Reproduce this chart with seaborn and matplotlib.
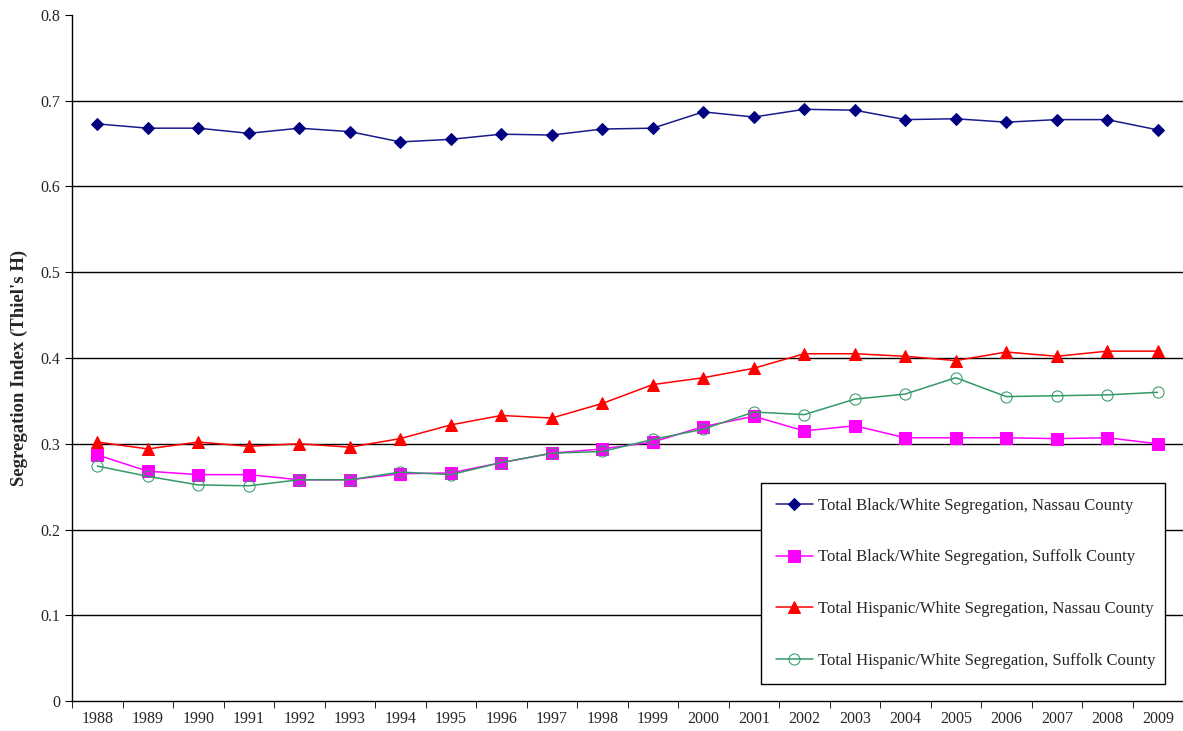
import matplotlib
matplotlib.use('Agg')
import matplotlib.pyplot as plt
import seaborn as sns
import pandas as pd

years = ['1988', '1989', '1990', '1991', '1992', '1993', '1994', '1995', '1996', '1997', '1998',
         '1999', '2000', '2001', '2002', '2003', '2004', '2005', '2006', '2007', '2008', '2009']

bw_nassau = [0.673, 0.668, 0.668, 0.662, 0.668, 0.664, 0.652, 0.655, 0.661, 0.660, 0.667,
             0.668, 0.687, 0.681, 0.690, 0.689, 0.678, 0.679, 0.675, 0.678, 0.678, 0.666]
bw_suffolk = [0.287, 0.268, 0.264, 0.264, 0.258, 0.258, 0.265, 0.266, 0.278, 0.289, 0.294,
              0.302, 0.320, 0.332, 0.315, 0.321, 0.307, 0.307, 0.307, 0.306, 0.307, 0.300]
hw_nassau = [0.302, 0.294, 0.302, 0.297, 0.300, 0.296, 0.306, 0.322, 0.333, 0.330, 0.347,
             0.369, 0.377, 0.388, 0.405, 0.405, 0.402, 0.397, 0.407, 0.402, 0.408, 0.408]
hw_suffolk = [0.274, 0.262, 0.252, 0.251, 0.258, 0.258, 0.267, 0.264, 0.278, 0.289, 0.291,
              0.305, 0.317, 0.337, 0.334, 0.352, 0.358, 0.377, 0.355, 0.356, 0.357, 0.360]

labels = ['Total Black/White Segregation, Nassau County',
          'Total Black/White Segregation, Suffolk County',
          'Total Hispanic/White Segregation, Nassau County',
          'Total Hispanic/White Segregation, Suffolk County']

sns.set_style('white')
plt.rcParams['font.family'] = ['Liberation Serif', 'DejaVu Serif']

fig = plt.figure(figsize=(11.83, 7.31), dpi=100)
ax = fig.add_axes([0.0609, 0.041, 0.9391, 0.9385])

pos = list(range(len(years)))
styles = [
    dict(color='#1a1a8c', marker='D', markersize=6, markerfacecolor='#000080', markeredgecolor='#000080'),
    dict(color='#FF00FF', marker='s', markersize=8, markerfacecolor='#FF00FF', markeredgecolor='#FF00FF'),
    dict(color='#FF0000', marker='^', markersize=8, markerfacecolor='#FF0000', markeredgecolor='#FF0000'),
    dict(color='#339966', marker='o', markersize=8, markerfacecolor='none', markeredgecolor='#339966'),
]
for vals, lab, st in zip([bw_nassau, bw_suffolk, hw_nassau, hw_suffolk], labels, styles):
    df = pd.DataFrame({'x': pos, 'y': vals})
    sns.lineplot(data=df, x='x', y='y', ax=ax, label=lab, linewidth=1.1, **st)

ax.set_xlim(-0.5, len(years) - 0.5)
ax.set_ylim(0, 0.8)
ax.set_xticks(pos)
ax.set_xticklabels(years, fontsize=11.5)
ax.set_xticks([p - 0.5 for p in pos], minor=True)
ax.set_yticks([0, 0.1, 0.2, 0.3, 0.4, 0.5, 0.6, 0.7, 0.8])
ax.set_yticklabels(['0', '0.1', '0.2', '0.3', '0.4', '0.5', '0.6', '0.7', '0.8'], fontsize=11.5)
ax.tick_params(axis='x', which='major', length=0, pad=7)
ax.tick_params(axis='x', which='minor', length=5, direction='out', bottom=True, color='black')
ax.tick_params(axis='y', length=5, direction='out', left=True, color='black')
ax.set_xlabel('')
ax.set_ylabel("Segregation Index (Thiel's H)", fontsize=13.5, fontweight='bold')
ax.yaxis.set_label_coords(-0.040, 0.485)

ax.yaxis.grid(True, color='black', linewidth=1)
ax.get_ygridlines()[-1].set_visible(False)
ax.get_ygridlines()[0].set_visible(False)
for s in ['top', 'right']:
    ax.spines[s].set_visible(False)
for s in ['left', 'bottom']:
    ax.spines[s].set_color('black')
    ax.spines[s].set_linewidth(1)

leg = ax.legend(loc='lower left', bbox_to_anchor=(0.620, 0.0248, 0.3636, 0.3017), mode='expand',
                borderaxespad=0, fontsize=12, labelspacing=2.15, handlelength=2.2, handletextpad=0.3,
                borderpad=0.9, frameon=True, fancybox=False, framealpha=1)
leg.get_frame().set_edgecolor('black')
leg.get_frame().set_linewidth(1)

plt.savefig('out.png', dpi=100)
